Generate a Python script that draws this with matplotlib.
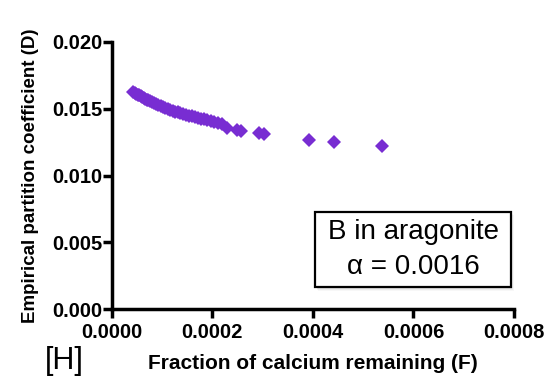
import matplotlib
matplotlib.use("Agg")
import matplotlib.pyplot as plt
from matplotlib.patches import Rectangle

plt.rcParams['font.family'] = ['Liberation Sans', 'DejaVu Sans']

# Data
fraction_remaining = [0.000043, 0.000046, 0.000049, 0.000052, 0.000055, 0.000058,
                      0.000061, 0.000064, 0.000067, 0.000070, 0.000073, 0.000077,
                      0.000081, 0.000085, 0.000089, 0.000093, 0.000097, 0.000101,
                      0.000106, 0.000111, 0.000116, 0.000121, 0.000126, 0.000131,
                      0.000136, 0.000141, 0.000147, 0.000153, 0.000159, 0.000165,
                      0.000171, 0.000177, 0.000183, 0.000190, 0.000197, 0.000204,
                      0.000211, 0.000219, 0.000230, 0.000250, 0.000258, 0.000293,
                      0.000303, 0.000393, 0.000443, 0.000537]
partition_coef = [0.01626, 0.01619, 0.01612, 0.01605, 0.01599, 0.01592,
                  0.01586, 0.01580, 0.01574, 0.01568, 0.01563, 0.01556,
                  0.01549, 0.01542, 0.01535, 0.01528, 0.01522, 0.01515,
                  0.01507, 0.01499, 0.01490, 0.01484, 0.01478, 0.01472,
                  0.01466, 0.01460, 0.01454, 0.01448, 0.01442, 0.01436,
                  0.01430, 0.01424, 0.01419, 0.01414, 0.01407, 0.01400,
                  0.01392, 0.01383, 0.01355, 0.01340, 0.01336, 0.01316,
                  0.01310, 0.01265, 0.01250, 0.01223]
x_ticks = [0.0, 0.0002, 0.0004, 0.0006, 0.0008]
x_tick_labels = ["0.0000", "0.0002", "0.0004", "0.0006", "0.0008"]
y_ticks = [0.0, 0.005, 0.010, 0.015, 0.020]
y_tick_labels = ["0.000", "0.005", "0.010", "0.015", "0.020"]
box_lines = ["B in aragonite", "α = 0.0016"]

fig = plt.figure(figsize=(5.52, 3.83), dpi=100)
ax = fig.add_axes([0.2024, 0.1924, 0.7288, 0.6987])

ax.plot(fraction_remaining, partition_coef, linestyle='none', marker='D',
        markersize=7.6, color='#782DD2', markeredgewidth=0, clip_on=False)

ax.set_xlim(0, 0.0008)
ax.set_ylim(0, 0.020)
ax.set_xticks(x_ticks)
ax.set_xticklabels(x_tick_labels)
ax.set_yticks(y_ticks)
ax.set_yticklabels(y_tick_labels)

for side in ['top', 'right']:
    ax.spines[side].set_visible(False)
for side in ['left', 'bottom']:
    ax.spines[side].set_linewidth(2.5)
ax.tick_params(axis='both', direction='out', length=6.5, width=2.5,
               labelsize=14.5)
ax.tick_params(axis='x', pad=3)
ax.tick_params(axis='y', pad=0.5)
for lab in ax.get_xticklabels() + ax.get_yticklabels():
    lab.set_fontweight('bold')

ax.set_xlabel("Fraction of calcium remaining (F)", fontsize=15,
              fontweight='bold', labelpad=9)
ax.set_ylabel("Empirical partition coefficient (D)", fontsize=13.5,
              fontweight='bold', labelpad=9)

# annotation box with soft shadow
bx0, by0, bw, bh = 0.5057, 0.082, 0.487, 0.2827
for i, a in enumerate([0.06, 0.05, 0.04, 0.03]):
    off = 0.004 + i * 0.003
    ax.add_patch(Rectangle((bx0 + off * 0.5, by0 - off), bw, bh,
                           transform=ax.transAxes, facecolor='black',
                           edgecolor='none', alpha=a, zorder=3))
ax.add_patch(Rectangle((bx0, by0), bw, bh, transform=ax.transAxes,
                       facecolor='white', edgecolor='black', linewidth=1.6,
                       zorder=4))
ax.text(bx0 + bw / 2, by0 + bh * 0.73, box_lines[0], transform=ax.transAxes,
        ha='center', va='center', fontsize=20, zorder=5)
ax.text(bx0 + bw / 2, by0 + bh * 0.27, box_lines[1], transform=ax.transAxes,
        ha='center', va='center', fontsize=20, zorder=5)

fig.text(0.116, 0.058, "[H]", ha='center', va='center', fontsize=22)

fig.savefig("out.png", dpi=100)
